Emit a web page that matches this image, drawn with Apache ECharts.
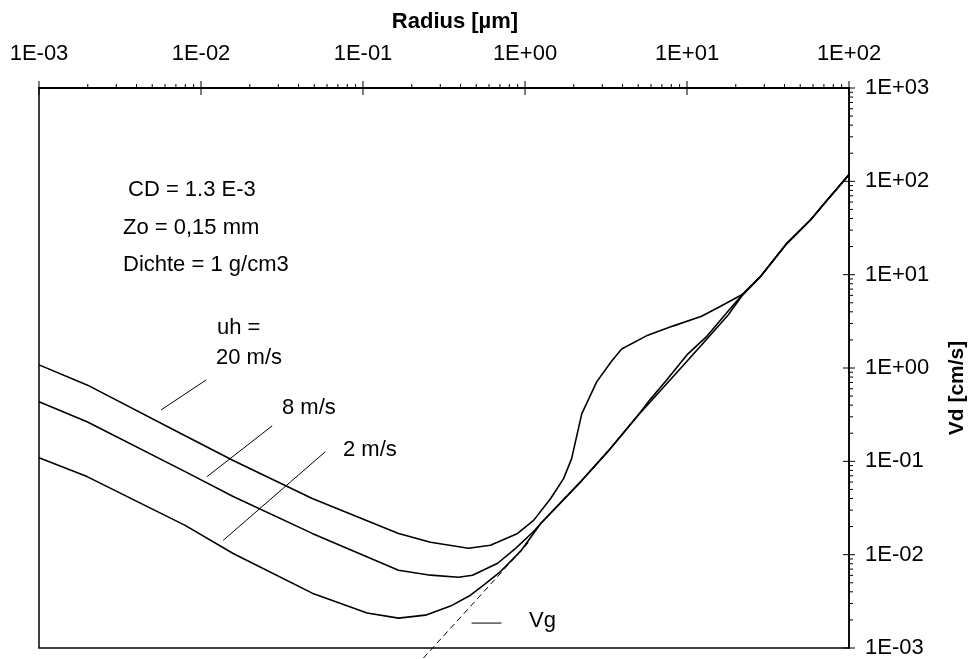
<!DOCTYPE html>
<html>
<head>
<meta charset="utf-8">
<script src="https://cdn.jsdelivr.net/npm/echarts@6/dist/echarts.min.js"></script>
<style>
  html, body { margin: 0; padding: 0; background: #fff; }
  #chart { width: 968px; height: 659px; }
</style>
</head>
<body>
<div id="chart"></div>
<script>
// ---- Data (radius in µm, deposition velocity in cm/s) ----
const r20 = [0.001, 0.00198, 0.00798, 0.0158, 0.0486, 0.1656, 0.261, 0.448, 0.612, 0.90, 1.13, 1.44, 1.73, 1.94, 2.24, 2.77, 3.43, 3.95, 5.73, 8.17, 12.3, 15.7, 21.8, 28.2, 40.8, 58.2, 72.1, 100];
const v20 = [1.08, 0.659, 0.188, 0.102, 0.040, 0.0169, 0.0136, 0.0117, 0.0126, 0.0169, 0.0233, 0.040, 0.0653, 0.107, 0.323, 0.710, 1.19, 1.60, 2.25, 2.81, 3.59, 4.48, 6.1, 9.4, 21.1, 39.0, 60.7, 118];

const r8 = [0.001, 0.00198, 0.00798, 0.0158, 0.0486, 0.1656, 0.261, 0.389, 0.474, 0.678, 0.875, 1.13, 1.25, 2.24, 3.24, 4.90, 5.97, 7.40, 10.1, 13.1, 17.9, 21.8, 28.2, 40.8, 58.2, 72.1, 100];
const v8 = [0.434, 0.265, 0.0776, 0.0420, 0.0169, 0.00681, 0.00603, 0.00573, 0.00603, 0.00809, 0.0117, 0.0177, 0.0216, 0.0622, 0.127, 0.300, 0.467, 0.726, 1.41, 2.14, 4.06, 6.0, 9.4, 21.1, 39.0, 60.7, 118];

const r2 = [0.001, 0.00198, 0.00798, 0.0158, 0.0486, 0.106, 0.1656, 0.243, 0.347, 0.461, 0.555, 0.706, 0.940, 1.25, 2.24, 3.24, 4.90, 8.17, 12.3, 17.9, 21.8, 28.2, 40.8, 58.2, 72.1, 100];
const v2 = [0.109, 0.0686, 0.0206, 0.0103, 0.00387, 0.00237, 0.00209, 0.00225, 0.00281, 0.00368, 0.00471, 0.0066, 0.0109, 0.0216, 0.0622, 0.127, 0.300, 0.802, 1.76, 3.68, 5.9, 9.4, 21.1, 39.0, 60.7, 118];

// gravitational settling velocity Vg (dashed, straight on log-log)
const rVg = [0.236, 1.08];
const vVg = [0.00078, 0.0142];

// label leader lines (data coordinates)
const lead20 = [[0.01076, 0.745], [0.00568, 0.356]];
const lead8 = [[0.0275, 0.240], [0.0109, 0.0686]];
const lead2 = [[0.0586, 0.127], [0.0137, 0.01422]];
const leadVg = [[0.468, 0.00185], [0.716, 0.00185]];

// axis ranges and decade exponents for tick labels
const xDecades = [-3, -2, -1, 0, 1, 2];
const yDecades = [-3, -2, -1, 0, 1, 2, 3];

// ---- helpers ----
const FONT = '"Liberation Sans", Arial, sans-serif';
function zip(a, b) { return a.map((x, i) => [x, b[i]]); }
function expLabel(v) {
  const e = Math.round(Math.log10(v));
  const s = e < 0 ? '-' : '+';
  const a = Math.abs(e);
  return '1E' + s + (a < 10 ? '0' : '') + a;
}
// tick marks at 1..9 × 10^e (log axis minor ticks)
const xTicks = [];
for (let i = 0; i < xDecades.length - 1; i++) {
  for (let m = 1; m <= 9; m++) xTicks.push([m * Math.pow(10, xDecades[i]), 1000, m === 1 ? 1 : 0]);
}
xTicks.push([Math.pow(10, xDecades[xDecades.length - 1]), 1000, 1]);
const yTicks = [];
for (let i = 0; i < yDecades.length - 1; i++) {
  for (let m = 1; m <= 9; m++) yTicks.push([100, m * Math.pow(10, yDecades[i]), m === 1 ? 1 : 0]);
}
yTicks.push([100, Math.pow(10, yDecades[yDecades.length - 1]), 1]);

function curve(data, extra) {
  return Object.assign({
    type: 'line', data: data, showSymbol: false, symbol: 'none', silent: true,
    lineStyle: { color: '#000', width: 1.6 }, z: 3, animation: false
  }, extra || {});
}
function txt(s, x, y, opt) {
  opt = opt || {};
  return {
    type: 'text', x: x, y: y, rotation: opt.rotation || 0, z: 10,
    style: {
      text: s, fill: '#000',
      font: (opt.bold ? 'bold ' : '') + (opt.size || 22) + 'px ' + FONT,
      align: opt.align || 'left', verticalAlign: 'middle',
      textAlign: opt.align || 'left', textVerticalAlign: 'middle'
    }
  };
}

const chart = echarts.init(document.getElementById('chart'), null, { renderer: 'canvas' });
chart.setOption({
  backgroundColor: '#fff',
  animation: false,
  grid: { left: 39, right: 119, top: 88, bottom: 9, show: true, borderColor: '#000', borderWidth: 1.5, containLabel: false },
  xAxis: {
    type: 'log', logBase: 10, position: 'top',
    min: Math.pow(10, xDecades[0]), max: Math.pow(10, xDecades[xDecades.length - 1]), interval: 1,
    axisLine: { show: true, onZero: false, lineStyle: { color: '#000', width: 2 } },
    axisTick: { show: false }, minorTick: { show: false }, splitLine: { show: false },
    axisLabel: { formatter: expLabel, color: '#000', fontSize: 22, fontFamily: FONT, margin: 23, showMinLabel: true, showMaxLabel: true }
  },
  yAxis: {
    type: 'log', logBase: 10, position: 'right',
    min: Math.pow(10, yDecades[0]), max: Math.pow(10, yDecades[yDecades.length - 1]), interval: 1,
    axisLine: { show: true, onZero: false, lineStyle: { color: '#000', width: 1.5 } },
    axisTick: { show: false }, minorTick: { show: false }, splitLine: { show: false },
    axisLabel: { formatter: expLabel, color: '#000', fontSize: 22, fontFamily: FONT, margin: 16, showMinLabel: true, showMaxLabel: true }
  },
  graphic: [
    txt('Radius [µm]', 455, 22, { bold: true, size: 22, align: 'center' }),
    txt('Vd [cm/s]', 957, 388, { bold: true, size: 21, align: 'center', rotation: Math.PI / 2 }),
    txt('CD = 1.3 E-3', 128, 190),
    txt('Zo = 0,15 mm', 123, 228),
    txt('Dichte = 1 g/cm3', 123, 265),
    txt('uh =', 217, 328),
    txt('20 m/s', 216, 358),
    txt('8 m/s', 282, 408),
    txt('2 m/s', 343, 450),
    txt('Vg', 529, 621)
  ],
  series: [
    curve(zip(r20, v20)),
    curve(zip(r8, v8)),
    curve(zip(r2, v2)),
    curve(zip(rVg, vVg), { clip: false, lineStyle: { color: '#000', width: 1, type: [6, 4] }, z: 2 }),
    curve(lead20, { lineStyle: { color: '#000', width: 1 } }),
    curve(lead8, { lineStyle: { color: '#000', width: 1 } }),
    curve(lead2, { lineStyle: { color: '#000', width: 1 } }),
    curve(leadVg, { lineStyle: { color: '#000', width: 1 } }),
    {
      type: 'custom', data: xTicks, clip: false, silent: true, z: 5, animation: false,
      renderItem: function (params, api) {
        const p = api.coord([api.value(0), api.value(1)]);
        const major = api.value(2) === 1;
        return { type: 'line', shape: { x1: p[0], y1: p[1] - (major ? 7 : 4), x2: p[0], y2: p[1] + (major ? 7 : 0) }, style: { stroke: '#000', lineWidth: 1 } };
      }
    },
    {
      type: 'custom', data: yTicks, clip: false, silent: true, z: 5, animation: false,
      renderItem: function (params, api) {
        const p = api.coord([api.value(0), api.value(1)]);
        const major = api.value(2) === 1;
        return { type: 'line', shape: { x1: p[0] - (major ? 6 : 0), y1: p[1], x2: p[0] + (major ? 6 : 4), y2: p[1] }, style: { stroke: '#000', lineWidth: 1 } };
      }
    }
  ]
});
</script>
</body>
</html>
